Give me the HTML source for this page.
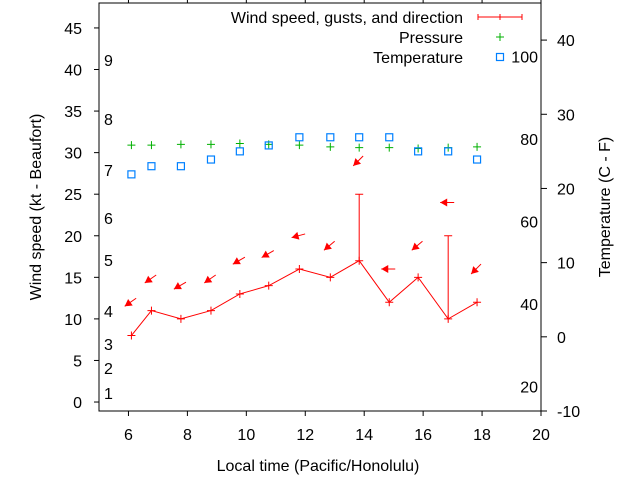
<!DOCTYPE html>
<html><head><meta charset="utf-8"><style>
body{margin:0;background:#fff}
svg{display:block;font-family:"Liberation Sans",sans-serif;font-size:16px}
</style></head><body>
<svg id="c" width="640" height="480"></svg>
<script>
const hours=[6.1,6.78,7.78,8.8,9.78,10.76,11.8,12.85,13.83,14.85,15.83,16.85,17.83];
const wind=[8,11,10,11,13,14,16,15,17,12,15,10,12];
const gusts=[null,null,null,null,null,null,null,null,25,null,null,20,null];
const arrowY=[12,14.8,14,14.8,17,17.8,20,18.8,29,16,18.8,24,16];
const arrowDir=[35,35,30,35,30,30,15,40,45,0,40,0,45];
const pressure=[30.9,30.9,31.0,31.0,31.1,31.0,30.9,30.7,30.6,30.6,30.5,30.6,30.7];
const tempC=[21.9,23,23,23.9,25,25.8,26.9,26.9,26.9,26.9,25,25,23.9];
const xTicks=[6,8,10,12,14,16,18,20];
const yTicks=[0,5,10,15,20,25,30,35,40,45];
const cTicks=[-10,0,10,20,30,40];
const fTicks=[20,40,60,80,100];
const bft=[[1,393],[2,368],[3,344],[4,311],[5,260],[6,218],[7,170],[8,119],[9,60]];
const L=99,R=541,T=3,B=411;
const X=v=>L+(v-5)/15*(R-L);
const Y=v=>B-(v+1.08)/(48+1.08)*(B-T);
const YC=v=>B-(v+10)/55*(B-T);
const YF=f=>YC((f-32)*5/9);
const s=document.getElementById('c');const NS='http://www.w3.org/2000/svg';
function el(t,a,p){const e=document.createElementNS(NS,t);for(const k in a)e.setAttribute(k,a[k]);(p||s).appendChild(e);return e;}
function txt(x,y,t,anchor,name,extra){const e=el('text',Object.assign({x:x,y:y,'text-anchor':anchor||'middle',fill:'#000'},extra||{}));e.textContent=t;

return e;}
const frame=el('rect',{x:L,y:T,width:R-L,height:B-T,fill:'none',stroke:'#000','stroke-width':1});


xTicks.forEach(v=>{const x=X(v);el('line',{x1:x,y1:B,x2:x,y2:B+5,stroke:'#000'});el('line',{x1:x,y1:T,x2:x,y2:T-5,stroke:'#000'});txt(x,440,v,'middle','x-tick-label');});
yTicks.forEach(v=>{const y=Y(v);el('line',{x1:L-5,y1:y,x2:L,y2:y,stroke:'#000'});txt(82,y+6,v,'end','y-tick-label');});
cTicks.forEach(v=>{const y=YC(v);el('line',{x1:R,y1:y,x2:R+6,y2:y,stroke:'#000'});txt(557,y+6,v,'start','temp-c-tick-label');});
fTicks.forEach(v=>{txt(538,YF(v)+6,v,'end','temp-f-tick-label');});
bft.forEach(b=>txt(104,b[1]+6,b[0],'start','beaufort-label'));
txt(318,471,'Local time (Pacific/Honolulu)','middle','x-axis-title');
txt(0,0,'Wind speed (kt - Beaufort)','middle','y-axis-title',{transform:'translate(41,207) rotate(-90)'});
txt(0,0,'Temperature (C - F)','middle','y2-axis-title',{transform:'translate(610,207) rotate(-90)'});
pressure.forEach((p,i)=>{const x=X(hours[i]),y=Y(p);const g=el('path',{d:`M${x-4},${y}h8M${x},${y-4}v8`,stroke:'#00b000','stroke-width':1});

});
tempC.forEach((t,i)=>{const x=X(hours[i]),y=YC(t);const r=el('rect',{x:x-3.5,y:y-3.5,width:7,height:7,fill:'none',stroke:'#0080ff','stroke-width':1.2});

});
const wl=el('polyline',{points:wind.map((w,i)=>X(hours[i])+','+Y(w)).join(' '),fill:'none',stroke:'#f00','stroke-width':1});


wind.forEach((w,i)=>{const x=X(hours[i]),y=Y(w);const m=el('path',{d:`M${x-4},${y}h8M${x},${y-4}v8`,stroke:'#f00'});


if(gusts[i]!=null){const g=el('path',{d:`M${x},${y}V${Y(gusts[i])}M${x-4},${Y(gusts[i])}h8`,stroke:'#f00'});

}});
arrowY.forEach((a,i)=>{const cx=X(hours[i])-1,cy=Y(a),ang=arrowDir[i]*Math.PI/180,len=14;
const dx=Math.cos(ang)*len/2,dy=Math.sin(ang)*len/2;
const hx=cx-dx,hy=cy+dy,tx=cx+dx,ty=cy-dy;
const ux=(hx-tx)/len,uy=(hy-ty)/len;
const bx=hx-ux*7,by=hy-uy*7;
const g=el('g',{});


el('line',{x1:tx,y1:ty,x2:hx,y2:hy,stroke:'#f00'},g);
el('polygon',{points:`${hx},${hy} ${bx-uy*4},${by+ux*4} ${bx+uy*4},${by-ux*4}`,fill:'#f00'},g);});
const lg=el('g',{});


txt(463,23,'Wind speed, gusts, and direction','end','legend-wind-label');
el('path',{d:'M478,17h44M478,14v6M522,14v6M500,14v6',stroke:'#f00'},lg);
txt(463,43,'Pressure','end','legend-pressure-label');
el('path',{d:'M496,37h8M500,33v8',stroke:'#00b000'},lg);
txt(463,63,'Temperature','end','legend-temperature-label');
el('rect',{x:496.5,y:53.5,width:7,height:7,fill:'none',stroke:'#0080ff','stroke-width':1.2},lg);
</script>
</body></html>
